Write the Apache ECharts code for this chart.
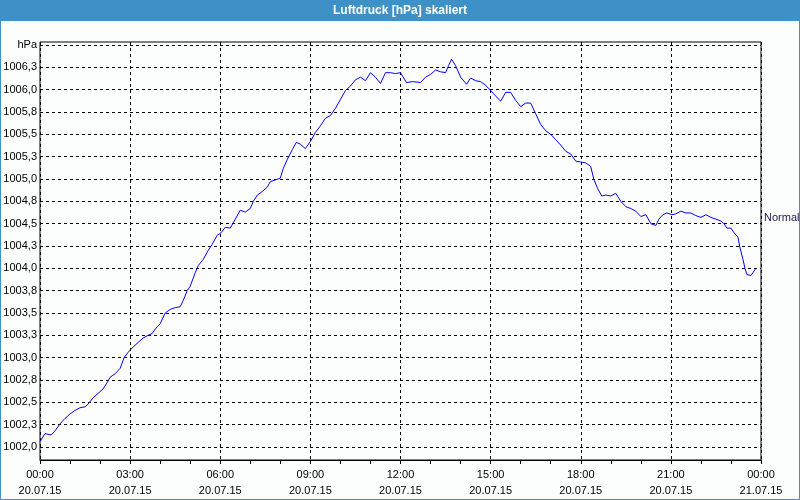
<!DOCTYPE html>
<html>
<head>
<meta charset="utf-8">
<script src="https://cdn.jsdelivr.net/npm/echarts@6/dist/echarts.min.js"></script>
<style>
html,body{margin:0;padding:0;background:#fcfefd;}
#chart{width:800px;height:500px;}
</style>
</head>
<body>
<div id="chart"></div>
<script>
// minutes since 20.07.15 00:00
const times = [0,10,22,30,40,50,60,70,80,90,96,106,116,126,134,140,150,160,168,176,186,196,206,216,224,230,240,250,260,270,280,286,294,300,310,316,326,336,344,354,362,370,380,390,400,410,420,426,434,444,454,460,470,480,486,494,504,512,520,530,540,550,560,570,580,590,600,610,620,630,640,650,660,670,680,690,700,710,720,732,744,760,770,780,790,800,810,816,822,830,840,852,860,870,880,890,900,910,920,930,940,950,960,970,980,990,1000,1010,1020,1030,1040,1050,1060,1070,1080,1090,1100,1106,1114,1122,1130,1140,1150,1160,1170,1180,1190,1200,1210,1220,1230,1236,1244,1252,1262,1270,1280,1290,1300,1310,1320,1330,1340,1350,1360,1366,1372,1380,1386,1394,1398,1404,1408,1412,1420,1426,1430];
const pressure = [1002.06,1002.15,1002.135,1002.18,1002.26,1002.32,1002.37,1002.41,1002.44,1002.45,1002.48,1002.55,1002.60,1002.65,1002.72,1002.78,1002.82,1002.88,1003.00,1003.06,1003.12,1003.17,1003.22,1003.25,1003.27,1003.32,1003.38,1003.50,1003.54,1003.56,1003.57,1003.64,1003.75,1003.80,1003.95,1004.03,1004.10,1004.20,1004.27,1004.37,1004.40,1004.46,1004.45,1004.55,1004.65,1004.63,1004.67,1004.75,1004.82,1004.86,1004.91,1004.97,1004.99,1005.01,1005.12,1005.22,1005.33,1005.41,1005.39,1005.34,1005.42,1005.52,1005.595,1005.68,1005.71,1005.79,1005.89,1005.99,1006.04,1006.11,1006.14,1006.10,1006.19,1006.14,1006.07,1006.19,1006.19,1006.18,1006.19,1006.08,1006.09,1006.08,1006.14,1006.17,1006.22,1006.20,1006.19,1006.27,1006.34,1006.27,1006.14,1006.06,1006.13,1006.10,1006.09,1006.05,1005.99,1005.93,1005.87,1005.97,1005.97,1005.88,1005.81,1005.85,1005.85,1005.73,1005.61,1005.54,1005.50,1005.44,1005.38,1005.31,1005.28,1005.20,1005.19,1005.18,1005.14,1005.00,1004.89,1004.81,1004.82,1004.81,1004.84,1004.75,1004.69,1004.67,1004.64,1004.58,1004.60,1004.50,1004.48,1004.55,1004.60,1004.62,1004.60,1004.61,1004.64,1004.62,1004.62,1004.59,1004.57,1004.60,1004.57,1004.55,1004.53,1004.50,1004.45,1004.45,1004.40,1004.35,1004.23,1004.10,1004.00,1003.93,1003.92,1003.97,1004.00];
const xTickTimes = ['00:00','03:00','06:00','09:00','12:00','15:00','18:00','21:00','00:00'];
const xTickDates = ['20.07.15','20.07.15','20.07.15','20.07.15','20.07.15','20.07.15','20.07.15','20.07.15','21.07.15'];
const yUnit = 'hPa';
const seriesName = 'Normal';
const chartTitle = 'Luftdruck [hPa] skaliert';

const FONT = 'Liberation Sans';
const chart = echarts.init(document.getElementById('chart'), null, {renderer: 'canvas'});
chart.setOption({
  backgroundColor: '#fcfefd',
  animation: false,
  graphic: [
    {type: 'rect', z: 0, shape: {x: 0, y: 0, width: 800, height: 21}, style: {fill: '#3d91c7'}},
    {type: 'rect', z: 0, shape: {x: 0.5, y: 0.5, width: 799, height: 499}, style: {fill: null, stroke: '#3d91c7', lineWidth: 1}},
    {type: 'text', z: 1, left: 'center', top: 5, style: {text: chartTitle, fill: '#ffffff', font: 'bold 12px "' + FONT + '"'}}
  ],
  legend: {
    left: 758, top: 212, orient: 'vertical', padding: 0,
    icon: 'rect', itemWidth: 1, itemHeight: 4, itemGap: 0,
    textStyle: {fontFamily: FONT, fontSize: 11, color: '#1a1a4a'},
    itemStyle: {opacity: 0},
    data: [seriesName]
  },
  grid: [
    {left: 40, right: 39, top: 45, bottom: 53, show: false},
    {left: 40, right: 39, top: 42, bottom: 40, show: true, borderColor: '#000', borderWidth: 1, backgroundColor: 'transparent'}
  ],
  xAxis: [
    {gridIndex: 0, type: 'value', min: 0, max: 1440, show: false},
    {gridIndex: 1, type: 'value', min: 0, max: 1440, interval: 180,
     axisLine: {show: true, lineStyle: {color: '#000', width: 1}},
     axisTick: {show: true, length: 4, lineStyle: {color: '#000'}},
     minorTick: {show: true, splitNumber: 3, length: 4, lineStyle: {color: '#000'}},
     splitLine: {show: true, lineStyle: {color: '#000', type: [3, 3], width: 1}},
     axisLabel: {
       margin: 7, fontFamily: FONT, fontSize: 11, color: '#000', lineHeight: 16,
       formatter: function (v) { const i = Math.round(v / 180); return xTickTimes[i] + '\n' + xTickDates[i]; }
     }
    }
  ],
  yAxis: [
    {gridIndex: 0, type: 'value', min: 1002, max: 1006.5, interval: 0.25,
     axisLine: {show: false}, axisTick: {show: false},
     splitLine: {show: true, lineStyle: {color: '#000', type: [3, 3], width: 1}},
     axisLabel: {
       margin: 3, fontFamily: FONT, fontSize: 11, color: '#000',
       formatter: function (v) { return v >= 1006.5 ? yUnit : v.toFixed(1).replace('.', ','); }
     }
    },
    {gridIndex: 1, type: 'value', show: false}
  ],
  series: [{
    name: seriesName, type: 'line', xAxisIndex: 0, yAxisIndex: 0,
    showSymbol: false, symbol: 'none',
    lineStyle: {color: '#0000ff', width: 1},
    itemStyle: {color: '#0000ff'},
    data: times.map((t, i) => [t, pressure[i]])
  }]
});
</script>
</body>
</html>
